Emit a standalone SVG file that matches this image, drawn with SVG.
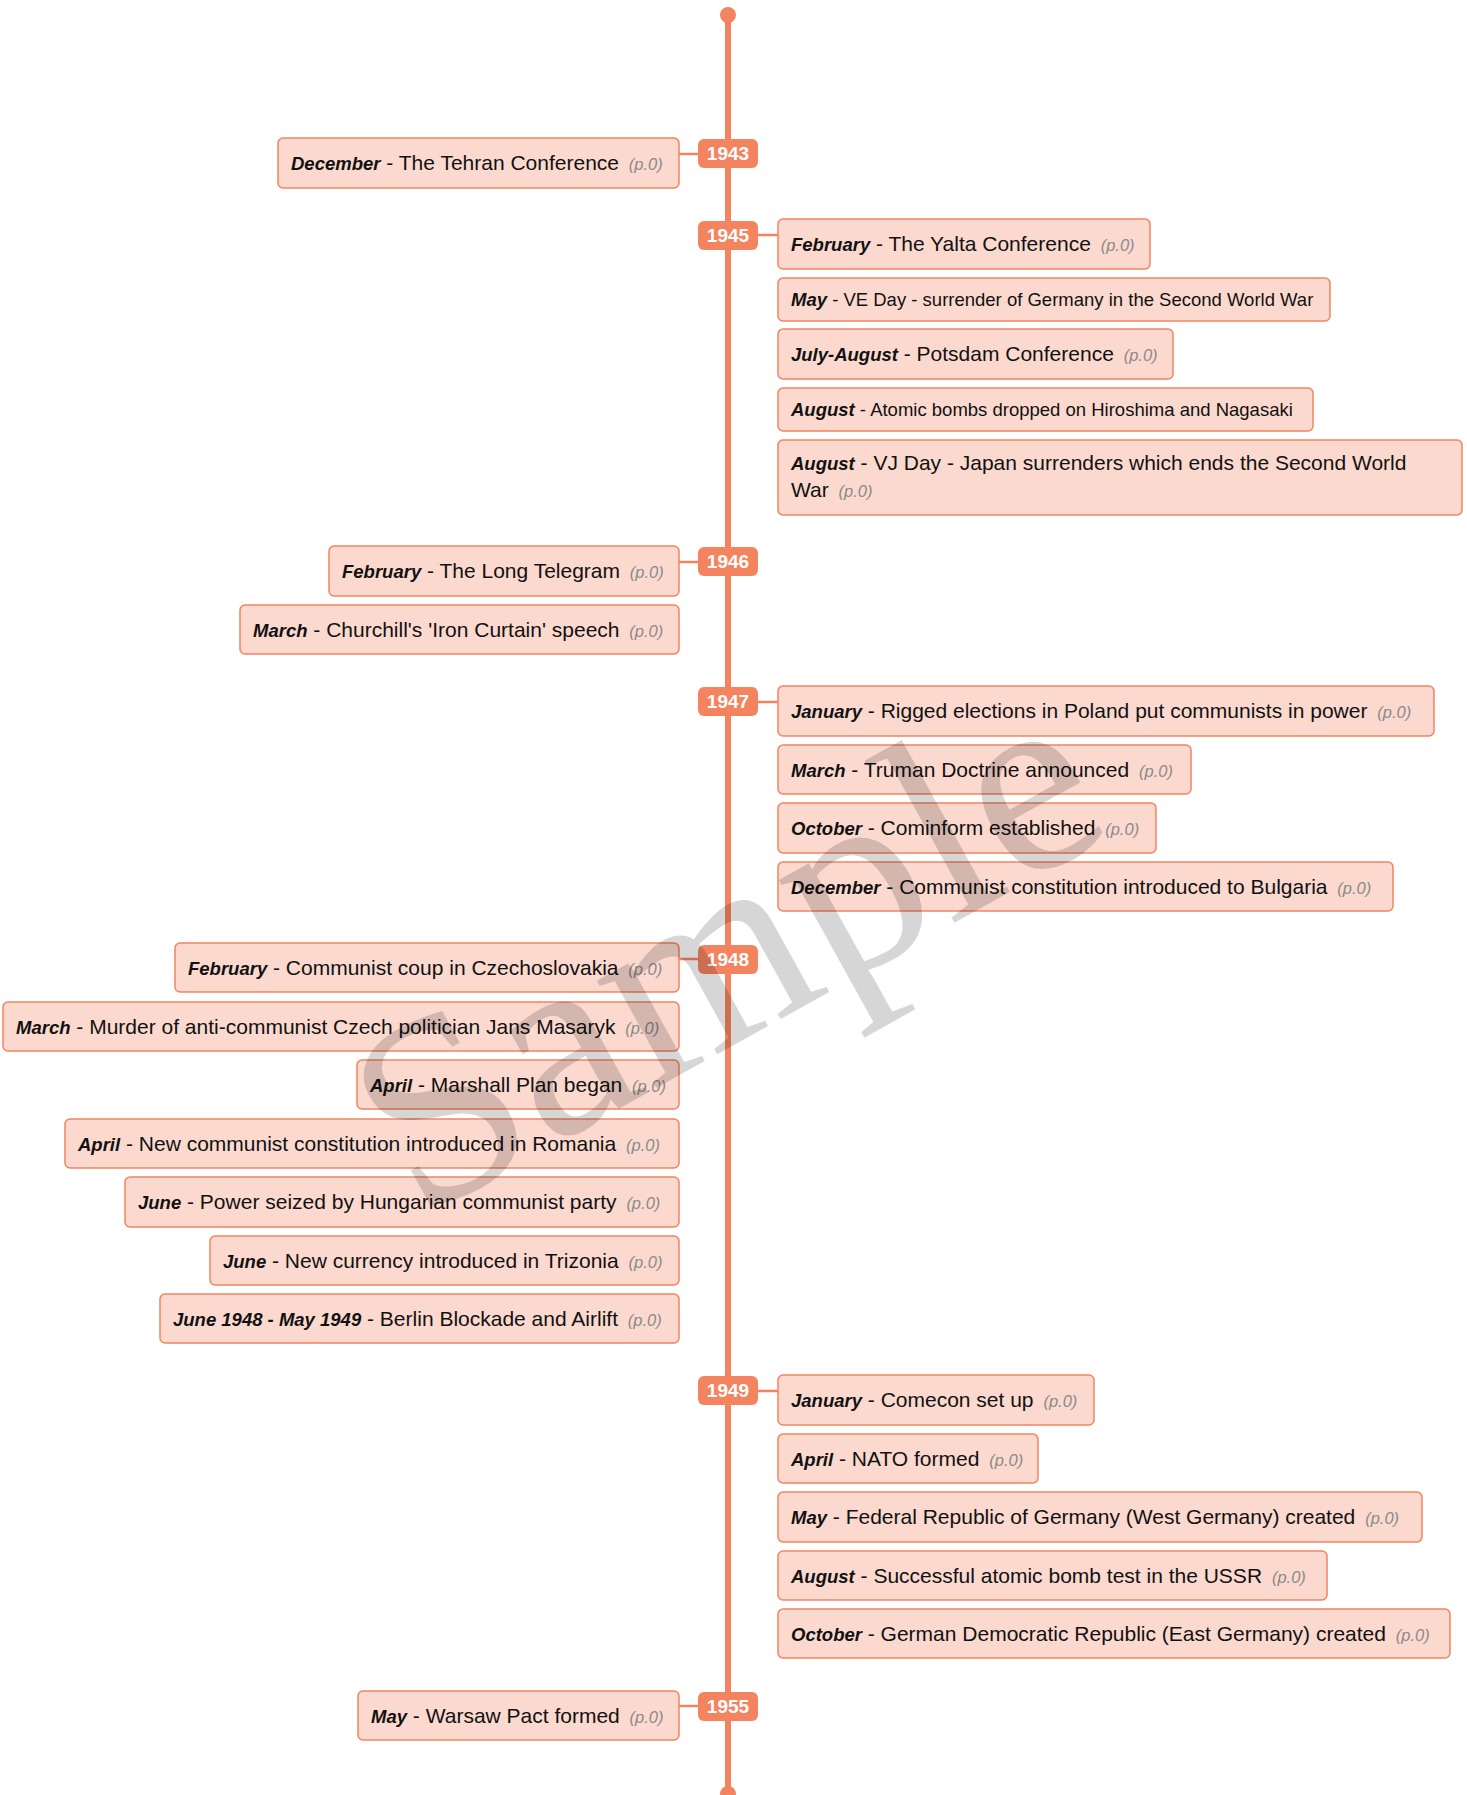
<svg xmlns="http://www.w3.org/2000/svg" width="1467" height="1795" viewBox="0 0 1467 1795">
<style>
.box{fill:#FCD9CF;stroke:#F4845F;stroke-width:1.5}
.badge{fill:#F4845F}
.yr{font-family:"Liberation Sans",Arial,sans-serif;font-weight:bold;font-size:19px;fill:#fff;text-anchor:middle}
.t{font-family:"Liberation Sans",Arial,sans-serif;font-size:21px;fill:#111}
.s{font-size:18.5px}
.lb{font-weight:bold;font-style:italic;font-size:18.5px}
.pg{font-style:italic;font-size:16.5px;fill:#8a8a8a}
.conn{stroke:#F4845F;stroke-width:2.5;fill:none}
.wm{font-family:"Liberation Serif","Times New Roman",serif;font-size:267px;fill:#000;fill-opacity:0.16}
</style>
<rect width="1467" height="1795" fill="#fff"/>
<g id="connectors">
<line x1="728" y1="15" x2="728" y2="1794" stroke="#F4845F" stroke-width="6"/>
<circle cx="728" cy="15" r="8" fill="#F4845F"/>
<circle cx="728" cy="1794" r="8" fill="#F4845F"/>
<line class="conn" x1="679" y1="154" x2="698" y2="154"/>
<line class="conn" x1="758" y1="235" x2="778" y2="235"/>
<line class="conn" x1="679" y1="562" x2="698" y2="562"/>
<line class="conn" x1="758" y1="702" x2="778" y2="702"/>
<line class="conn" x1="679" y1="959" x2="698" y2="959"/>
<line class="conn" x1="758" y1="1391" x2="778" y2="1391"/>
<line class="conn" x1="679" y1="1706" x2="698" y2="1706"/>
</g>
<g id="y1943"><rect class="badge" x="698" y="139" width="60" height="29" rx="6"/><text class="yr" x="728" y="160">1943</text></g>
<g id="y1945"><rect class="badge" x="698" y="221" width="60" height="29" rx="6"/><text class="yr" x="728" y="242">1945</text></g>
<g id="y1946"><rect class="badge" x="698" y="547" width="60" height="29" rx="6"/><text class="yr" x="728" y="568">1946</text></g>
<g id="y1947"><rect class="badge" x="698" y="687" width="60" height="29" rx="6"/><text class="yr" x="728" y="708">1947</text></g>
<g id="y1948"><rect class="badge" x="698" y="945" width="60" height="29" rx="6"/><text class="yr" x="728" y="966">1948</text></g>
<g id="y1949"><rect class="badge" x="698" y="1376" width="60" height="29" rx="6"/><text class="yr" x="728" y="1397">1949</text></g>
<g id="y1955"><rect class="badge" x="698" y="1692" width="60" height="29" rx="6"/><text class="yr" x="728" y="1713">1955</text></g>

<g id="e1943-dec"><rect class="box" x="278" y="138" width="401" height="50" rx="5"/><text class="t" x="291" y="170"><tspan class="lb">December</tspan> - The Tehran Conference <tspan class="pg" dx="4">(p.0)</tspan></text></g>

<g id="e1945-feb"><rect class="box" x="778" y="219" width="372" height="50" rx="5"/><text class="t" x="791" y="251"><tspan class="lb">February</tspan> - The Yalta Conference <tspan class="pg" dx="4">(p.0)</tspan></text></g>
<g id="e1945-may"><rect class="box" x="778" y="278" width="552" height="43" rx="5"/><text class="t s" x="791" y="306"><tspan class="lb">May</tspan> - VE Day - surrender of Germany in the Second World War</text></g>
<g id="e1945-jul"><rect class="box" x="778" y="329" width="395" height="50" rx="5"/><text class="t" x="791" y="361"><tspan class="lb">July-August</tspan> - Potsdam Conference <tspan class="pg" dx="4">(p.0)</tspan></text></g>
<g id="e1945-aug1"><rect class="box" x="778" y="388" width="535" height="43" rx="5"/><text class="t s" x="791" y="416"><tspan class="lb">August</tspan> - Atomic bombs dropped on Hiroshima and Nagasaki</text></g>
<g id="e1945-aug2"><rect class="box" x="778" y="440" width="684" height="75" rx="5"/><text class="t" x="791" y="470"><tspan class="lb">August</tspan> - VJ Day - Japan surrenders which ends the Second World</text><text class="t" x="791" y="497">War <tspan class="pg" dx="4">(p.0)</tspan></text></g>

<g id="e1946-feb"><rect class="box" x="329" y="546" width="350" height="50" rx="5"/><text class="t" x="342" y="578"><tspan class="lb">February</tspan> - The Long Telegram <tspan class="pg" dx="4">(p.0)</tspan></text></g>
<g id="e1946-mar"><rect class="box" x="240" y="605" width="439" height="49" rx="5"/><text class="t" x="253" y="637"><tspan class="lb">March</tspan> - Churchill's 'Iron Curtain' speech <tspan class="pg" dx="4">(p.0)</tspan></text></g>

<g id="e1947-jan"><rect class="box" x="778" y="686" width="656" height="50" rx="5"/><text class="t" x="791" y="718"><tspan class="lb">January</tspan> - Rigged elections in Poland put communists in power <tspan class="pg" dx="4">(p.0)</tspan></text></g>
<g id="e1947-mar"><rect class="box" x="778" y="745" width="413" height="49" rx="5"/><text class="t" x="791" y="777"><tspan class="lb">March</tspan> - Truman Doctrine announced <tspan class="pg" dx="4">(p.0)</tspan></text></g>
<g id="e1947-oct"><rect class="box" x="778" y="803" width="378" height="50" rx="5"/><text class="t" x="791" y="835"><tspan class="lb">October</tspan> - Cominform established <tspan class="pg" dx="4">(p.0)</tspan></text></g>
<g id="e1947-dec"><rect class="box" x="778" y="862" width="615" height="49" rx="5"/><text class="t" x="791" y="894"><tspan class="lb">December</tspan> - Communist constitution introduced to Bulgaria <tspan class="pg" dx="4">(p.0)</tspan></text></g>

<g id="e1948-feb"><rect class="box" x="175" y="943" width="504" height="49" rx="5"/><text class="t" x="188" y="975"><tspan class="lb">February</tspan> - Communist coup in Czechoslovakia <tspan class="pg" dx="4">(p.0)</tspan></text></g>
<g id="e1948-mar"><rect class="box" x="3" y="1002" width="676" height="49" rx="5"/><text class="t" x="16" y="1034"><tspan class="lb">March</tspan> - Murder of anti-communist Czech politician Jans Masaryk <tspan class="pg" dx="4">(p.0)</tspan></text></g>
<g id="e1948-apr1"><rect class="box" x="357" y="1060" width="322" height="49" rx="5"/><text class="t" x="370" y="1092"><tspan class="lb">April</tspan> - Marshall Plan began <tspan class="pg" dx="4">(p.0)</tspan></text></g>
<g id="e1948-apr2"><rect class="box" x="65" y="1119" width="614" height="49" rx="5"/><text class="t" x="78" y="1151"><tspan class="lb">April</tspan> - New communist constitution introduced in Romania <tspan class="pg" dx="4">(p.0)</tspan></text></g>
<g id="e1948-jun1"><rect class="box" x="125" y="1177" width="554" height="50" rx="5"/><text class="t" x="138" y="1209"><tspan class="lb">June</tspan> - Power seized by Hungarian communist party <tspan class="pg" dx="4">(p.0)</tspan></text></g>
<g id="e1948-jun2"><rect class="box" x="210" y="1236" width="469" height="49" rx="5"/><text class="t" x="223" y="1268"><tspan class="lb">June</tspan> - New currency introduced in Trizonia <tspan class="pg" dx="4">(p.0)</tspan></text></g>
<g id="e1948-jun3"><rect class="box" x="160" y="1294" width="519" height="49" rx="5"/><text class="t" x="173" y="1326"><tspan class="lb">June 1948 - May 1949</tspan> - Berlin Blockade and Airlift <tspan class="pg" dx="4">(p.0)</tspan></text></g>

<g id="e1949-jan"><rect class="box" x="778" y="1375" width="316" height="50" rx="5"/><text class="t" x="791" y="1407"><tspan class="lb">January</tspan> - Comecon set up <tspan class="pg" dx="4">(p.0)</tspan></text></g>
<g id="e1949-apr"><rect class="box" x="778" y="1434" width="260" height="49" rx="5"/><text class="t" x="791" y="1466"><tspan class="lb">April</tspan> - NATO formed <tspan class="pg" dx="4">(p.0)</tspan></text></g>
<g id="e1949-may"><rect class="box" x="778" y="1492" width="644" height="50" rx="5"/><text class="t" x="791" y="1524"><tspan class="lb">May</tspan> - Federal Republic of Germany (West Germany) created <tspan class="pg" dx="4">(p.0)</tspan></text></g>
<g id="e1949-aug"><rect class="box" x="778" y="1551" width="549" height="49" rx="5"/><text class="t" x="791" y="1583"><tspan class="lb">August</tspan> - Successful atomic bomb test in the USSR <tspan class="pg" dx="4">(p.0)</tspan></text></g>
<g id="e1949-oct"><rect class="box" x="778" y="1609" width="672" height="49" rx="5"/><text class="t" x="791" y="1641"><tspan class="lb">October</tspan> - German Democratic Republic (East Germany) created <tspan class="pg" dx="4">(p.0)</tspan></text></g>

<g id="e1955-may"><rect class="box" x="358" y="1691" width="321" height="49" rx="5"/><text class="t" x="371" y="1723"><tspan class="lb">May</tspan> - Warsaw Pact formed <tspan class="pg" dx="4">(p.0)</tspan></text></g>

<text class="wm" transform="translate(768 1026) rotate(-29)" text-anchor="middle">Sample</text>
</svg>
